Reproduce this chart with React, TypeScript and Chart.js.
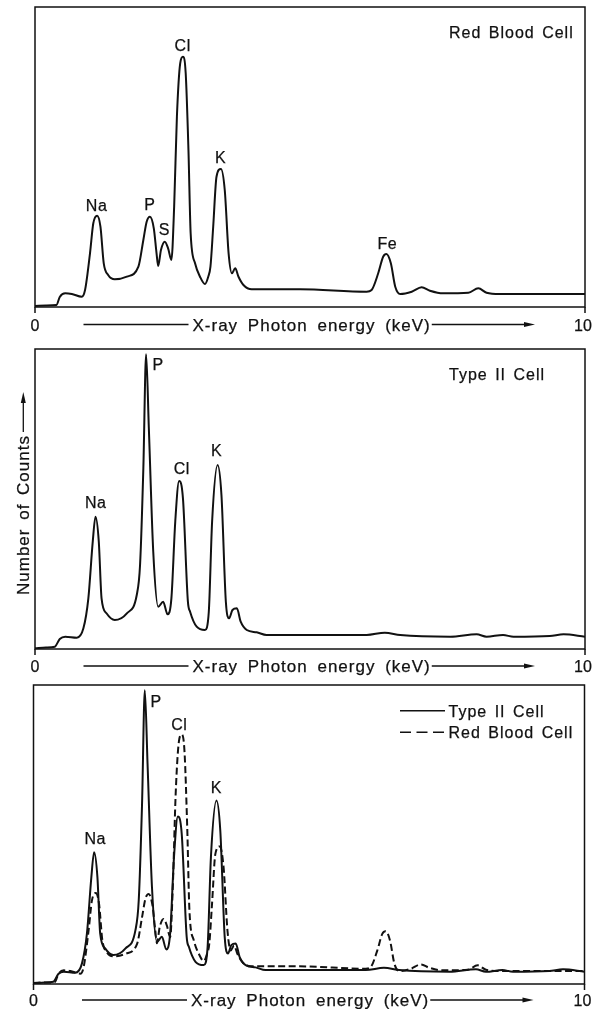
import React, { useEffect, useRef } from "react";
import { Chart, registerables } from "chart.js";

Chart.register(...registerables);

const FONT = '"Liberation Sans", Arial, Helvetica, sans-serif';
const INK = "#111111";

// X axis (keV)
const X_MIN = 0;
const X_MAX = 10;
const X_TICKS = [0, 10];
const X_CAPTION = "X-ray Photon energy (keV)";
const Y_CAPTION = "Number of Counts";
const Y_MAX = 300;

// Red blood cell spectrum (energy keV, relative counts)
const rbcEnergy = [
  0.0, 0.2, 0.39, 0.45, 0.55, 0.67, 0.85, 0.91, 1.0, 1.06, 1.13, 1.19, 1.25, 1.33, 1.45, 1.67,
  1.88, 1.97, 2.03, 2.09, 2.16, 2.21, 2.24, 2.29, 2.36, 2.42, 2.48, 2.53, 2.58, 2.64, 2.69, 2.74,
  2.79, 2.83, 2.91, 3.0, 3.09, 3.15, 3.19, 3.24, 3.3, 3.38, 3.45, 3.52, 3.58, 3.64, 3.7, 3.79,
  3.94, 4.82, 6.03, 6.12, 6.24, 6.33, 6.39, 6.47, 6.55, 6.64, 6.85, 7.03, 7.18, 7.42, 7.88, 8.06,
  8.21, 8.45, 10.0,
];
const rbcCounts = [
  1, 1.5, 2, 10, 13.7, 13, 10.3, 17, 53.7, 83.7, 91.3, 80.3, 43.7, 32, 27.7, 30.3,
  40.3, 67, 85.3, 90.3, 78.7, 53.7, 41, 57, 65.3, 58.7, 47, 100.3, 190.3, 243.7, 250.3, 233.7,
  157, 73.7, 43.7, 30.3, 23, 30.3, 40.3, 80.3, 130.3, 138, 117, 53.7, 33.7, 38.7, 30.3, 22,
  17.7, 17.7, 15.3, 17, 33.7, 50.3, 53, 43.7, 20.3, 13, 15.3, 19.7, 16.3, 13.7, 14.3, 18.7,
  14.3, 13, 13,
];

// Type II cell spectrum
const type2Energy = [
  0.0, 0.2, 0.36, 0.45, 0.55, 0.76, 0.88, 0.97, 1.05, 1.1, 1.16, 1.21, 1.3, 1.45, 1.67, 1.85,
  1.91, 1.97, 2.02, 2.07, 2.15, 2.24, 2.33, 2.41, 2.48, 2.55, 2.62, 2.69, 2.78, 2.82, 2.94, 3.09,
  3.16, 3.22, 3.32, 3.39, 3.47, 3.53, 3.59, 3.67, 3.74, 3.85, 4.03, 4.21, 4.82, 6.03, 6.36, 6.64,
  7.55, 8.03, 8.21, 8.51, 8.7, 9.36, 9.61, 10.0,
];
const type2Counts = [
  0.7, 1.5, 2.3, 10, 12.3, 11.3, 20.7, 50.7, 107.3, 132.3, 107.3, 50.7, 35.7, 29, 35.7, 54,
  84, 180.7, 294.7, 220.7, 97.3, 42.3, 47.3, 34.7, 50.7, 127.3, 168, 150.7, 47.3, 37.3, 22.3, 19,
  37.3, 127.3, 184, 154, 47.3, 30.7, 39, 40.7, 27.3, 19, 16.7, 14, 14, 14, 16.3, 14,
  12.3, 14.7, 12.3, 14, 12.3, 13, 14.7, 12.3,
];

// Peak labels (element, energy keV, count level of label centre)
const rbcPeakNames = ["Na", "P", "S", "Cl", "K", "Fe"];
const rbcPeakEnergy = [1.12, 2.09, 2.35, 2.685, 3.376, 6.406];
const rbcPeakLabelCounts = [102, 103, 77.7, 262, 150.3, 64.3];

const type2PeakNames = ["Na", "P", "Cl", "K"];
const type2PeakEnergy = [1.103, 2.24, 2.667, 3.303];
const type2PeakLabelCounts = [147.3, 284.7, 180.7, 199];

const comparePeakNames = ["Na", "P", "Cl", "K"];
const comparePeakEnergy = [1.118, 2.227, 2.645, 3.318];
const comparePeakLabelCounts = [146.3, 284, 260.7, 197.3];

const seriesNames = ["Type II Cell", "Red Blood Cell"];

const pts = (e: number[], v: number[]) => e.map((x, i) => ({ x, y: v[i] }));

function setSpacing(ctx: any, letter: string, word: string) {
  try {
    ctx.letterSpacing = letter;
    ctx.wordSpacing = word;
  } catch (e) {}
}

function inkText(ctx: CanvasRenderingContext2D, s: string, x: number, y: number) {
  ctx.save();
  ctx.lineWidth = 0.25;
  ctx.strokeStyle = INK;
  ctx.fillText(s, x, y);
  ctx.strokeText(s, x, y);
  ctx.restore();
}

type Panel = {
  top: number;
  height: number;
  pad: { left: number; right: number; top: number; bottom: number };
  datasets: any[];
  names: string[];
  energy: number[];
  counts: number[];
  captionGap: number;
  title?: string;
  legend?: boolean;
  yTitle?: boolean;
};

function makeDecor(p: Panel) {
  return {
    id: "decor",
    afterDraw(chart: any) {
      const ctx = chart.ctx as CanvasRenderingContext2D;
      const a = chart.chartArea;
      const xs = chart.scales.x;
      const ys = chart.scales.y;
      ctx.save();
      ctx.strokeStyle = INK;
      ctx.fillStyle = INK;
      ctx.lineWidth = 1.5;
      ctx.strokeRect(a.left, a.top, a.right - a.left, a.bottom - a.top);

      // ticks + tick labels
      ctx.font = `16px ${FONT}`;
      ctx.textAlign = "center";
      ctx.textBaseline = "alphabetic";
      setSpacing(ctx, "0px", "0px");
      const midY = a.bottom + p.captionGap;
      for (const t of X_TICKS) {
        const px = xs.getPixelForValue(t);
        ctx.beginPath();
        ctx.moveTo(px, a.bottom);
        ctx.lineTo(px, a.bottom + 6);
        ctx.stroke();
        inkText(ctx, String(t), t === X_MAX ? px - 2 : px, midY + 6);
      }

      // caption with arrow
      ctx.font = `17px ${FONT}`;
      ctx.textAlign = "left";
      setSpacing(ctx, "1px", "4px");
      const tx = a.left + 157.5;
      const tw = ctx.measureText(X_CAPTION).width;
      inkText(ctx, X_CAPTION, tx, midY + 6);
      ctx.lineWidth = 1.3;
      ctx.beginPath();
      ctx.moveTo(a.left + 48.5, midY);
      ctx.lineTo(tx - 4, midY);
      ctx.moveTo(tx + tw + 1, midY);
      ctx.lineTo(a.left + 492, midY);
      ctx.stroke();
      const tip = a.left + 500;
      ctx.beginPath();
      ctx.moveTo(tip, midY);
      ctx.lineTo(tip - 11, midY - 2.5);
      ctx.lineTo(tip - 11, midY + 2.5);
      ctx.closePath();
      ctx.fill();

      // peak labels
      ctx.font = `16px ${FONT}`;
      ctx.textAlign = "center";
      setSpacing(ctx, "0.5px", "0px");
      p.names.forEach((n, i) => {
        const px = xs.getPixelForValue(p.energy[i]);
        const py = ys.getPixelForValue(p.counts[i]);
        inkText(ctx, n, px, py + 6);
      });

      // panel title
      setSpacing(ctx, "1px", "2px");
      ctx.textAlign = "left";
      if (p.title) {
        inkText(ctx, p.title, a.left + 414, a.top + 25 + 6);
      }

      // legend
      if (p.legend) {
        chart.data.datasets.forEach((ds: any, i: number) => {
          const ly = a.top + 25.7 + i * 21.6;
          ctx.save();
          ctx.lineWidth = 1.5;
          ctx.setLineDash(ds.borderDash && ds.borderDash.length ? [11, 5.5] : []);
          ctx.beginPath();
          ctx.moveTo(a.left + 366.5, ly);
          ctx.lineTo(a.left + 411.5, ly);
          ctx.stroke();
          ctx.restore();
          inkText(ctx, ds.label, a.left + 415, ly + 6);
        });
      }

      // y caption
      if (p.yTitle) {
        ctx.save();
        ctx.translate(29.3, 255);
        ctx.rotate(-Math.PI / 2);
        ctx.font = `17px ${FONT}`;
        setSpacing(ctx, "1px", "3px");
        ctx.textAlign = "left";
        const w = ctx.measureText(Y_CAPTION).width;
        inkText(ctx, Y_CAPTION, 0, 0);
        ctx.lineWidth = 1.3;
        ctx.beginPath();
        ctx.moveTo(w + 3, -6);
        ctx.lineTo(194, -6);
        ctx.stroke();
        ctx.beginPath();
        ctx.moveTo(203, -6);
        ctx.lineTo(192, -8.5);
        ctx.lineTo(192, -3.5);
        ctx.closePath();
        ctx.fill();
        ctx.restore();
      }
      ctx.restore();
    },
  };
}

const solid = (label: string, e: number[], v: number[]) => ({
  label,
  data: pts(e, v),
  borderColor: INK,
  borderWidth: 2,
  pointRadius: 0,
  fill: false,
  cubicInterpolationMode: "monotone",
  borderJoinStyle: "round",
});

const panels: Panel[] = [
  {
    top: 0,
    height: 345,
    pad: { left: 35, right: 18, top: 7, bottom: 38 },
    datasets: [solid(seriesNames[1], rbcEnergy, rbcCounts)],
    names: rbcPeakNames,
    energy: rbcPeakEnergy,
    counts: rbcPeakLabelCounts,
    captionGap: 17.5,
    title: "Red Blood Cell",
  },
  {
    top: 340,
    height: 345,
    pad: { left: 35, right: 18, top: 9, bottom: 36 },
    datasets: [solid(seriesNames[0], type2Energy, type2Counts)],
    names: type2PeakNames,
    energy: type2PeakEnergy,
    counts: type2PeakLabelCounts,
    captionGap: 17,
    title: "Type II Cell",
    yTitle: true,
  },
  {
    top: 675,
    height: 334,
    pad: { left: 33.5, right: 18.5, top: 10, bottom: 25 },
    datasets: [
      solid(seriesNames[0], type2Energy, type2Counts),
      { ...solid(seriesNames[1], rbcEnergy, rbcCounts), borderDash: [7, 3.5] },
    ],
    names: comparePeakNames,
    energy: comparePeakEnergy,
    counts: comparePeakLabelCounts,
    captionGap: 16,
    legend: true,
  },
];

function PanelChart({ p }: { p: Panel }) {
  const ref = useRef<HTMLCanvasElement | null>(null);
  useEffect(() => {
    if (!ref.current) return;
    const chart = new Chart(ref.current, {
      type: "line",
      data: { datasets: p.datasets },
      options: {
        responsive: false,
        animation: false,
        events: [],
        devicePixelRatio: 1,
        layout: { padding: p.pad },
        plugins: { legend: { display: false }, tooltip: { enabled: false } },
        scales: {
          x: { type: "linear", min: X_MIN, max: X_MAX, display: false },
          y: { type: "linear", min: 0, max: Y_MAX, display: false },
        },
      },
      plugins: [makeDecor(p)],
    } as any);
    return () => chart.destroy();
  }, [p]);
  return (
    <canvas
      ref={ref}
      width={603}
      height={p.height}
      style={{ position: "absolute", left: 0, top: p.top, width: 603, height: p.height, display: "block" }}
    />
  );
}

export default function App() {
  return (
    <div style={{ position: "absolute", left: 0, top: 0, width: 603, height: 1009, background: "#fff" }}>
      {panels.map((p, i) => (
        <PanelChart key={i} p={p} />
      ))}
    </div>
  );
}
